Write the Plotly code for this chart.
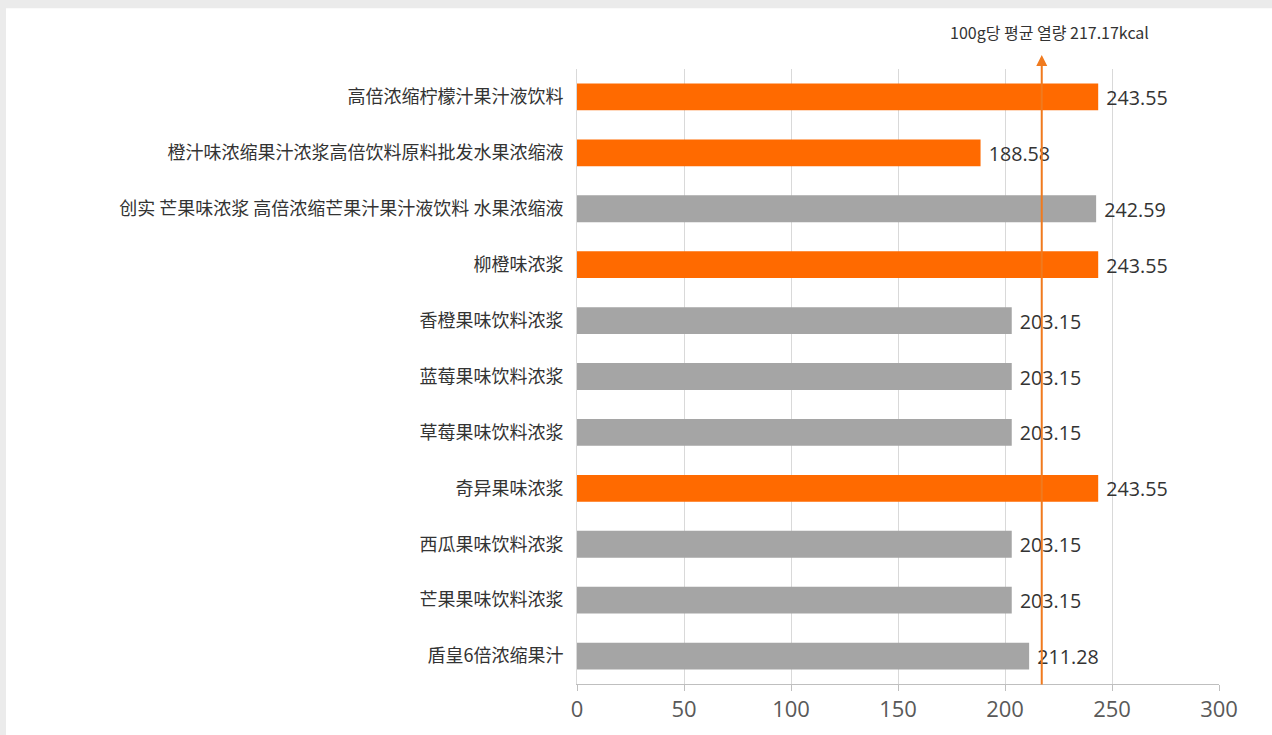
import plotly.graph_objects as go

# Products (top to bottom), calories per 100g, and which ones are highlighted
products = [
    "高倍浓缩柠檬汁果汁液饮料",
    "橙汁味浓缩果汁浓浆高倍饮料原料批发水果浓缩液",
    "创实 芒果味浓浆 高倍浓缩芒果汁果汁液饮料 水果浓缩液",
    "柳橙味浓浆",
    "香橙果味饮料浓浆",
    "蓝莓果味饮料浓浆",
    "草莓果味饮料浓浆",
    "奇异果味浓浆",
    "西瓜果味饮料浓浆",
    "芒果果味饮料浓浆",
    "盾皇6倍浓缩果汁",
]
kcal = [243.55, 188.58, 242.59, 243.55, 203.15, 203.15, 203.15, 243.55, 203.15, 203.15, 211.28]
highlight = [True, True, False, True, False, False, False, True, False, False, False]
avg_kcal = 217.17
avg_label = "100g당 평균 열량 217.17kcal"
x_ticks = [0, 50, 100, 150, 200, 250, 300]

ORANGE = "#ff6a00"
GREY = "#a5a5a5"
colors = [ORANGE if h else GREY for h in highlight]

W, H = 1272, 735
L, R, T, B = 577, 53, 69, 49
pw, ph = W - L - R, H - T - B

fig = go.Figure(
    go.Bar(
        x=kcal,
        y=products,
        orientation="h",
        marker=dict(color=colors, line=dict(width=0)),
        text=[f" {v:.2f}" for v in kcal],
        textposition="outside",
        textfont=dict(family="Open Sans, Noto Sans", size=22, color="#333333"),
        cliponaxis=False,
        hoverinfo="skip",
    )
)

# white panel over the light grey page border
fig.add_shape(
    type="rect", xref="paper", yref="paper", layer="below",
    x0=(6 - L) / pw, x1=(W + 5 - L) / pw,
    y0=-(B + 5) / ph, y1=(ph + T - 8) / ph,
    fillcolor="white", line=dict(width=0),
)

# average line from the x axis up to an arrow head above the bars
head_px = 55
fig.add_annotation(
    x=avg_kcal, xref="x", y=(ph + T - head_px) / ph, yref="paper",
    ax=0, ay=ph + T - head_px, axref="pixel", ayref="pixel",
    text="", showarrow=True, arrowhead=2, arrowsize=1.1,
    arrowwidth=2, arrowcolor="#f07a1e",
)
fig.add_annotation(
    x=avg_kcal, xref="x", xshift=8, y=(ph + T - 32) / ph, yref="paper",
    text=avg_label, showarrow=False, xanchor="center", yanchor="middle",
    font=dict(family="Noto Sans CJK KR", size=16, color="#333333"),
)

fig.update_layout(
    width=W, height=H,
    margin=dict(l=L, r=R, t=T, b=B, pad=0),
    paper_bgcolor="#ebebeb",
    plot_bgcolor="white",
    bargap=0.52,
    showlegend=False,
    xaxis=dict(
        range=[0, 300], tickvals=x_ticks,
        showgrid=True, gridcolor="#d9d9d9", gridwidth=1,
        showline=True, linecolor="#bfbfbf", linewidth=1,
        ticks="outside", ticklen=6, tickcolor="#bfbfbf",
        tickfont=dict(family="Open Sans, Noto Sans", size=22, color="#595959"),
        zeroline=False,
    ),
    yaxis=dict(
        categoryorder="array", categoryarray=products, autorange="reversed",
        showline=True, linecolor="#d9d9d9", linewidth=1,
        ticks="", ticklabelstandoff=9,
        tickfont=dict(family="Noto Sans CJK SC", size=18, color="#333333"),
    ),
)

fig.write_html("out.html")
